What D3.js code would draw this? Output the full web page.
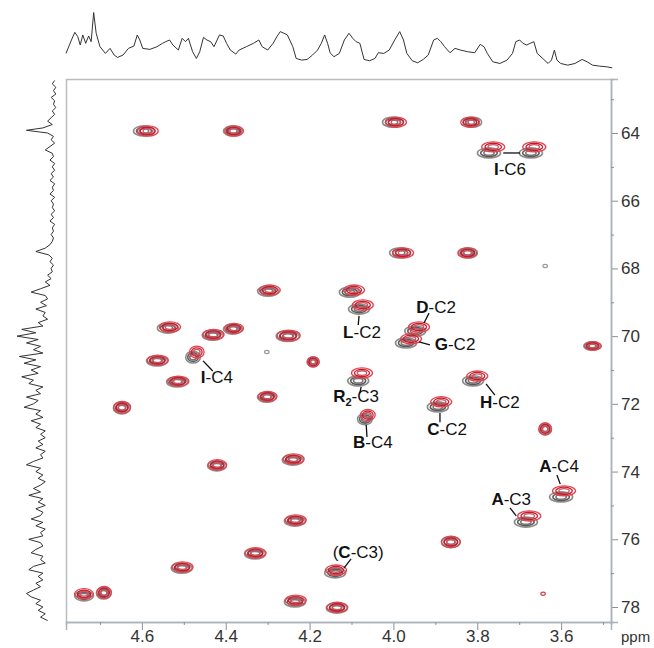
<!DOCTYPE html>
<html><head><meta charset="utf-8">
<script src="https://cdn.jsdelivr.net/npm/d3@7"></script>
<style>body{margin:0;background:#fff}svg{display:block}text{font-family:"Liberation Sans",Arial,sans-serif}</style>
</head><body><svg id="c" width="654" height="648"></svg>
<script>
// ---- 1D projection along 1H (top) : ppm and intensity (arb. units)
const topPpm=[4.781,4.768,4.760,4.753,4.747,4.741,4.734,4.727,4.721,4.715,4.709,4.700,4.687,4.676,4.666,4.658,4.645,4.632,4.619,4.611,4.605,4.598,4.581,4.564,4.551,4.543,4.534,4.526,4.513,4.504,4.496,4.489,4.479,4.470,4.462,4.453,4.445,4.436,4.428,4.415,4.406,4.398,4.389,4.376,4.368,4.351,4.334,4.321,4.313,4.300,4.287,4.278,4.270,4.261,4.253,4.240,4.232,4.219,4.206,4.193,4.181,4.172,4.164,4.157,4.151,4.142,4.129,4.117,4.106,4.097,4.089,4.080,4.070,4.057,4.044,4.036,4.023,4.010,3.997,3.985,3.976,3.968,3.955,3.942,3.929,3.917,3.904,3.895,3.887,3.878,3.865,3.853,3.840,3.823,3.806,3.793,3.784,3.776,3.763,3.746,3.729,3.716,3.708,3.699,3.691,3.682,3.674,3.665,3.657,3.644,3.631,3.623,3.616,3.610,3.601,3.584,3.567,3.550,3.538,3.525,3.508,3.491,3.478];
const topInt=[45,85,108,95,70,100,75,97,80,167,105,65,45,60,40,33,40,60,67,100,85,60,57,65,75,80,85,70,55,90,80,90,50,30,50,93,85,80,65,100,97,75,55,43,55,65,75,85,65,55,75,95,110,105,100,65,30,25,27,40,55,75,100,75,47,35,45,85,105,90,80,75,27,23,30,47,45,55,85,110,85,45,23,17,27,40,85,90,80,65,47,60,55,50,47,72,65,45,20,15,25,45,80,85,75,70,75,80,45,30,15,25,55,25,15,10,15,27,20,10,7,5,2];

// ---- 1D projection along 13C (left)
const leftPpm=[62.45,62.55,62.65,62.75,62.85,62.95,63.05,63.15,63.25,63.35,63.45,63.55,63.65,63.75,63.85,63.92,64.0,64.1,64.2,64.3,64.4,64.5,64.6,64.7,64.8,64.9,65.0,65.1,65.2,65.3,65.4,65.5,65.6,65.7,65.8,65.9,66.0,66.1,66.2,66.3,66.4,66.5,66.6,66.7,66.8,66.9,67.0,67.1,67.2,67.3,67.4,67.5,67.6,67.7,67.8,67.9,68.0,68.1,68.2,68.3,68.4,68.5,68.6,68.7,68.8,68.9,69.0,69.1,69.2,69.3,69.4,69.5,69.6,69.7,69.8,69.9,70.0,70.1,70.2,70.3,70.4,70.5,70.6,70.7,70.8,70.9,71.0,71.1,71.2,71.3,71.4,71.5,71.6,71.7,71.8,71.9,72.0,72.1,72.2,72.3,72.4,72.5,72.6,72.7,72.8,72.9,73.0,73.1,73.2,73.3,73.4,73.5,73.6,73.7,73.8,73.9,74.0,74.1,74.2,74.3,74.4,74.5,74.6,74.7,74.8,74.9,75.0,75.1,75.2,75.3,75.4,75.5,75.6,75.7,75.8,75.9,76.0,76.1,76.2,76.3,76.4,76.5,76.6,76.7,76.8,76.9,77.0,77.1,77.2,77.3,77.4,77.5,77.6,77.7,77.8,77.9,78.0,78.1,78.2,78.3,78.4];
const leftInt=[2,4,1,3,1,5,2,3,1,4,2,5,8,4,12,26,8,3,5,2,6,10,4,3,6,2,4,2,5,3,6,2,4,3,6,2,5,3,4,2,5,3,6,2,4,3,5,3,4,6,10,18,7,4,6,3,5,4,8,5,10,6,14,22,10,8,14,9,18,10,12,8,16,12,30,18,34,16,26,14,20,12,32,18,28,14,22,16,30,20,24,12,18,14,26,16,20,28,14,18,12,22,14,18,10,14,10,16,12,18,10,14,12,20,26,14,18,12,16,10,14,20,14,24,12,16,10,18,12,14,22,12,18,10,14,12,24,14,12,18,22,12,14,10,20,24,12,16,12,18,14,20,26,22,14,18,12,16,10,14,8];

// ---- axis ticks
const hTicks=[4.6,4.4,4.2,4.0,3.8,3.6];
const hMinor=[4.7,4.5,4.3,4.1,3.9,3.7,3.5];
const cTicks=[64,66,68,70,72,74,76,78];
const cMinor=[63,65,67,69,71,73,75,77];

// ---- 2D cross peaks: grey spectrum and red spectrum (1H ppm, 13C ppm)
const grayH=[4.595,4.383,4.001,3.812,3.772,3.672,3.984,3.822,4.299,4.104,4.082,4.538,4.431,4.383,4.252,3.948,3.970,4.564,4.478,4.192,4.516,4.302,4.648,4.084,3.810,3.894,4.068,3.638,4.421,4.240,3.600,3.684,4.235,3.863,4.330,4.505,4.139,4.738,4.691,4.235,4.135,3.526];
const grayC=[63.94,63.94,63.68,63.68,64.59,64.59,67.54,67.54,68.67,68.70,69.20,69.76,69.97,69.79,70.00,69.85,70.20,70.73,70.62,70.76,71.35,71.80,72.12,71.32,71.32,72.09,72.45,72.74,73.83,73.66,74.75,75.49,75.46,76.08,76.43,76.85,76.99,77.67,77.59,77.85,78.03,70.29];
const redH=[4.586,4.380,3.994,3.817,3.762,3.664,3.977,3.824,4.295,4.094,4.073,4.533,4.429,4.380,4.250,3.939,3.958,4.562,4.469,4.191,4.513,4.300,4.647,4.075,3.800,3.886,4.061,3.638,4.420,4.238,3.593,3.676,4.233,3.863,4.329,4.503,4.137,4.738,4.690,4.233,4.134,3.524];
const redC=[63.94,63.94,63.68,63.68,64.41,64.41,67.54,67.54,68.64,68.64,69.08,69.73,69.95,69.77,69.98,69.73,70.08,70.71,70.47,70.76,71.33,71.78,72.10,71.09,71.18,71.94,72.33,72.74,73.80,73.63,74.57,75.31,75.43,76.08,76.40,76.82,76.91,77.61,77.57,77.80,78.01,70.29];
// line widths (ppm)
const lwH=[.05,.045,.05,.045,.055,.055,.05,.045,.05,.05,.05,.05,.05,.045,.055,.05,.05,.05,.035,.028,.05,.045,.04,.05,.05,.05,.035,.03,.045,.05,.055,.055,.05,.045,.05,.05,.05,.045,.035,.05,.05,.04];
const lwC=[.3,.3,.3,.3,.3,.3,.3,.3,.3,.3,.3,.3,.3,.3,.32,.3,.3,.3,.35,.3,.3,.3,.35,.3,.3,.3,.33,.35,.3,.3,.3,.3,.3,.33,.3,.3,.3,.3,.35,.3,.3,.25];
// tiny peaks
const tinyH=[3.638,4.302,3.643];
const tinyC=[67.93,70.47,77.61];
const tinyRed=[false,false,true];

// ---- assignments: label, label position (ppm), leader line (ppm)
const labels=[
 {parts:[["I",1],["-C6",0]],h:3.722,c:65.24,l:[3.738,64.59,3.698,64.59]},
 {parts:[["L",1],["-C2",0]],h:4.075,c:70.05,l:[4.082,69.40,4.084,69.67]},
 {parts:[["D",1],["-C2",0]],h:3.898,c:69.32,l:[3.915,69.32,3.927,69.61]},
 {parts:[["G",1],["-C2",0]],h:3.853,c:70.41,l:[3.939,70.17,3.913,70.26]},
 {parts:[["R",1],["2",2],["-C3",0]],h:4.089,c:71.94,l:[4.077,71.50,4.080,71.68]},
 {parts:[["B",1],["-C4",0]],h:4.049,c:73.30,l:[4.065,72.62,4.063,72.98]},
 {parts:[["C",1],["-C2",0]],h:3.872,c:72.92,l:[3.889,72.27,3.889,72.54]},
 {parts:[["H",1],["-C2",0]],h:3.746,c:72.12,l:[3.779,71.41,3.758,71.74]},
 {parts:[["A",1],["-C4",0]],h:3.605,c:74.01,l:[3.610,74.10,3.602,74.37]},
 {parts:[["A",1],["-C3",0]],h:3.719,c:74.99,l:[3.722,75.07,3.707,75.31]},
 {parts:[["(",0],["C",1],["-C3)",0]],h:4.084,c:76.55,l:[4.101,76.58,4.118,76.85]},
 {parts:[["I",1],["-C4",0]],h:4.421,c:71.38,l:[4.454,70.73,4.431,71.03]}
];

const svg=d3.select("#c");
const x=d3.scaleLinear().domain([4.781,3.481]).range([66,611]);
const y=d3.scaleLinear().domain([62.405,78.443]).range([79,622]);
const yTop=d3.scaleLinear().domain([0,167]).range([68.5,12.5]);
const xLeft=d3.scaleLinear().domain([0,40]).range([57,10]);

// frame
svg.append("line").attr("x1",66).attr("x2",611).attr("y1",79.5).attr("y2",79.5).attr("stroke","#bcbcbc").attr("stroke-width",1.5);
svg.append("line").attr("x1",66.5).attr("x2",66.5).attr("y1",79).attr("y2",622).attr("stroke","#bcbcbc").attr("stroke-width",1.5);

// top projection
svg.append("path").datum(topPpm.map((p,i)=>[p,topInt[i]]))
 .attr("d",d3.line().x(d=>x(d[0])).y(d=>yTop(d[1])))
 .attr("fill","none").attr("stroke","#333").attr("stroke-width",1);
// left projection
svg.append("path").datum(leftPpm.map((p,i)=>[p,leftInt[i]]))
 .attr("d",d3.line().x(d=>xLeft(d[1])).y(d=>y(d[0])))
 .attr("fill","none").attr("stroke","#333").attr("stroke-width",1);

// axes
const gR=svg.append("g").attr("transform","translate(611,0)");
gR.call(d3.axisRight(y).tickValues(cTicks).tickSize(7).tickPadding(3).tickFormat(d3.format("d")));
gR.append("g").call(d3.axisRight(y).tickValues(cMinor).tickSize(3).tickFormat(""));
const gB=svg.append("g").attr("transform","translate(0,622)");
gB.call(d3.axisBottom(x).tickValues(hTicks).tickSize(8).tickPadding(0).tickFormat(d3.format(".1f")));
gB.append("g").call(d3.axisBottom(x).tickValues(hMinor).tickSize(3).tickFormat(""));
svg.selectAll(".domain").attr("stroke","#aab3bb").attr("stroke-width",1.5);
svg.selectAll(".tick line").attr("stroke","#8a9096");
svg.selectAll(".tick text").attr("font-size",17).attr("fill","#333").attr("font-family","'Liberation Sans',Arial,sans-serif");
svg.append("text").attr("x",621).attr("y",642).attr("font-size",15).attr("fill","#333").text("ppm");

// cross peaks
const peaks=svg.append("g");
function contour(cx,cy,rx,ry,cols,w){
  [1,0.72,0.45].forEach((k,i)=>{
    peaks.append("ellipse").attr("cx",cx).attr("cy",cy).attr("rx",rx*k).attr("ry",ry*k)
      .attr("fill","none").attr("stroke",cols[i]).attr("stroke-width",w);
  });
}
grayH.forEach((h,i)=>{
  const rx=Math.abs(x(h+lwH[i]/2)-x(h)), ry=Math.abs(y(grayC[i]+lwC[i]/2)-y(grayC[i]));
  contour(x(h),y(grayC[i]),rx,ry,["#8c8c8c","#5a5a5a","#777"],1.6);
});
redH.forEach((h,i)=>{
  const rx=Math.abs(x(h+lwH[i]/2)-x(h)), ry=Math.abs(y(redC[i]+lwC[i]/2)-y(redC[i]));
  contour(x(h),y(redC[i]),rx,ry,["#e8404c","#c0202c","#d05060"],1.3);
});
tinyH.forEach((h,i)=>{
  peaks.append("ellipse").attr("cx",x(h)).attr("cy",y(tinyC[i])).attr("rx",2.2).attr("ry",1.6)
    .attr("fill","none").attr("stroke",tinyRed[i]?"#d04050":"#999").attr("stroke-width",1.2);
});

// labels
const lg=svg.append("g");
labels.forEach(L=>{
  lg.append("line").attr("x1",x(L.l[0])).attr("y1",y(L.l[1])).attr("x2",x(L.l[2])).attr("y2",y(L.l[3]))
    .attr("stroke","#111").attr("stroke-width",1.3);
  const t=lg.append("text").attr("x",x(L.h)).attr("y",y(L.c)).attr("text-anchor","middle")
    .attr("font-size",17).attr("fill","#111");
  L.parts.forEach((p,j)=>{
    const ts=t.append("tspan").text(p[0]);
    if(p[1]===1) ts.attr("font-weight","bold");
    if(p[1]===2) ts.attr("font-weight","bold").attr("font-size",11).attr("dy",4);
    if(j>0 && L.parts[j-1][1]===2) ts.attr("dy",-4);
  });
});
</script></body></html>
